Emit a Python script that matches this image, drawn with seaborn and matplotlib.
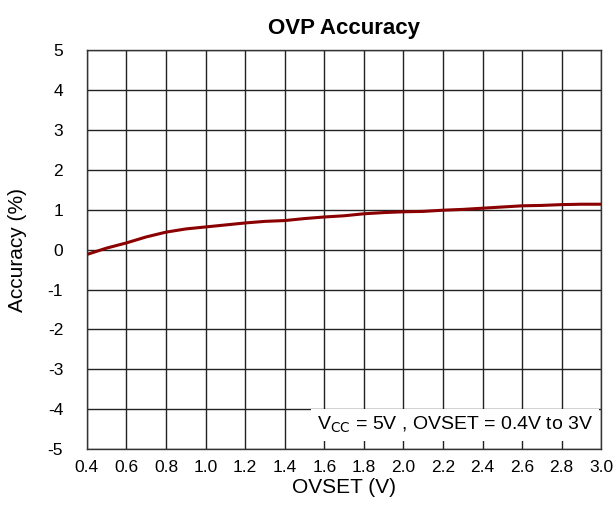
import numpy as np
import pandas as pd
import matplotlib
matplotlib.use("Agg")
import matplotlib.pyplot as plt
import seaborn as sns

# Valores
ovset = [0.4, 0.5, 0.6, 0.7, 0.8, 0.9, 1.0, 1.1, 1.2, 1.3, 1.4, 1.5, 1.6, 1.7,
         1.8, 1.9, 2.0, 2.1, 2.2, 2.3, 2.4, 2.5, 2.6, 2.7, 2.8, 2.9, 3.0]
accuracy = [-0.12, 0.04, 0.17, 0.32, 0.44, 0.52, 0.57, 0.62, 0.67, 0.71, 0.73,
            0.78, 0.82, 0.85, 0.90, 0.93, 0.95, 0.96, 0.99, 1.01, 1.04, 1.07,
            1.10, 1.11, 1.13, 1.14, 1.14]
x_ticks = [0.4, 0.6, 0.8, 1.0, 1.2, 1.4, 1.6, 1.8, 2.0, 2.2, 2.4, 2.6, 2.8, 3.0]
y_ticks = [-5, -4, -3, -2, -1, 0, 1, 2, 3, 4, 5]


def main():
    sns.set_style("white")
    plt.rcParams["font.family"] = ["Liberation Sans", "DejaVu Sans"]
    plt.rcParams["axes.unicode_minus"] = False
    plt.rcParams["text.color"] = "black"
    plt.rcParams["axes.labelcolor"] = "black"
    plt.rcParams["xtick.color"] = "black"
    plt.rcParams["ytick.color"] = "black"

    tabela = pd.DataFrame({"OVSET": ovset, "Accuracy": accuracy})

    fig = plt.figure(figsize=(6.16, 5.29), dpi=100)
    ax = fig.add_axes([0.141, 0.151, 0.835, 0.754])

    sns.lineplot(data=tabela, x="OVSET", y="Accuracy", ax=ax,
                 color="#8b0000", linewidth=2.2)

    ax.set_xlim(0.4, 3.0)
    ax.set_ylim(-5, 5)
    ax.set_xticks(x_ticks)
    ax.set_yticks(y_ticks)
    ax.set_xticklabels([f"{v:.1f}" for v in x_ticks])
    ax.set_yticklabels([str(v) for v in y_ticks])
    ax.grid(True, color="#222222", linewidth=1.0)
    ax.tick_params(labelsize=12.5, length=0)
    ax.tick_params(axis="y", pad=17)
    ax.tick_params(axis="x", pad=8)
    for s in ax.spines.values():
        s.set_color("#333333")
        s.set_linewidth(1.0)

    ax.set_xlabel("OVSET (V)", fontsize=15, labelpad=2)
    ax.set_ylabel("Accuracy (%)", fontsize=15, labelpad=15)
    ax.set_title("OVP Accuracy", fontsize=16, fontweight="bold", pad=12)

    ax.text(0.985, 0.06, r"V$_{\mathrm{CC}}$ = 5V , OVSET = 0.4V to 3V",
            transform=ax.transAxes, ha="right", va="center", fontsize=14,
            bbox=dict(facecolor="white", edgecolor="none", pad=4))

    fig.savefig("out.png", dpi=100)
    plt.close(fig)


if __name__ == "__main__":
    main()
